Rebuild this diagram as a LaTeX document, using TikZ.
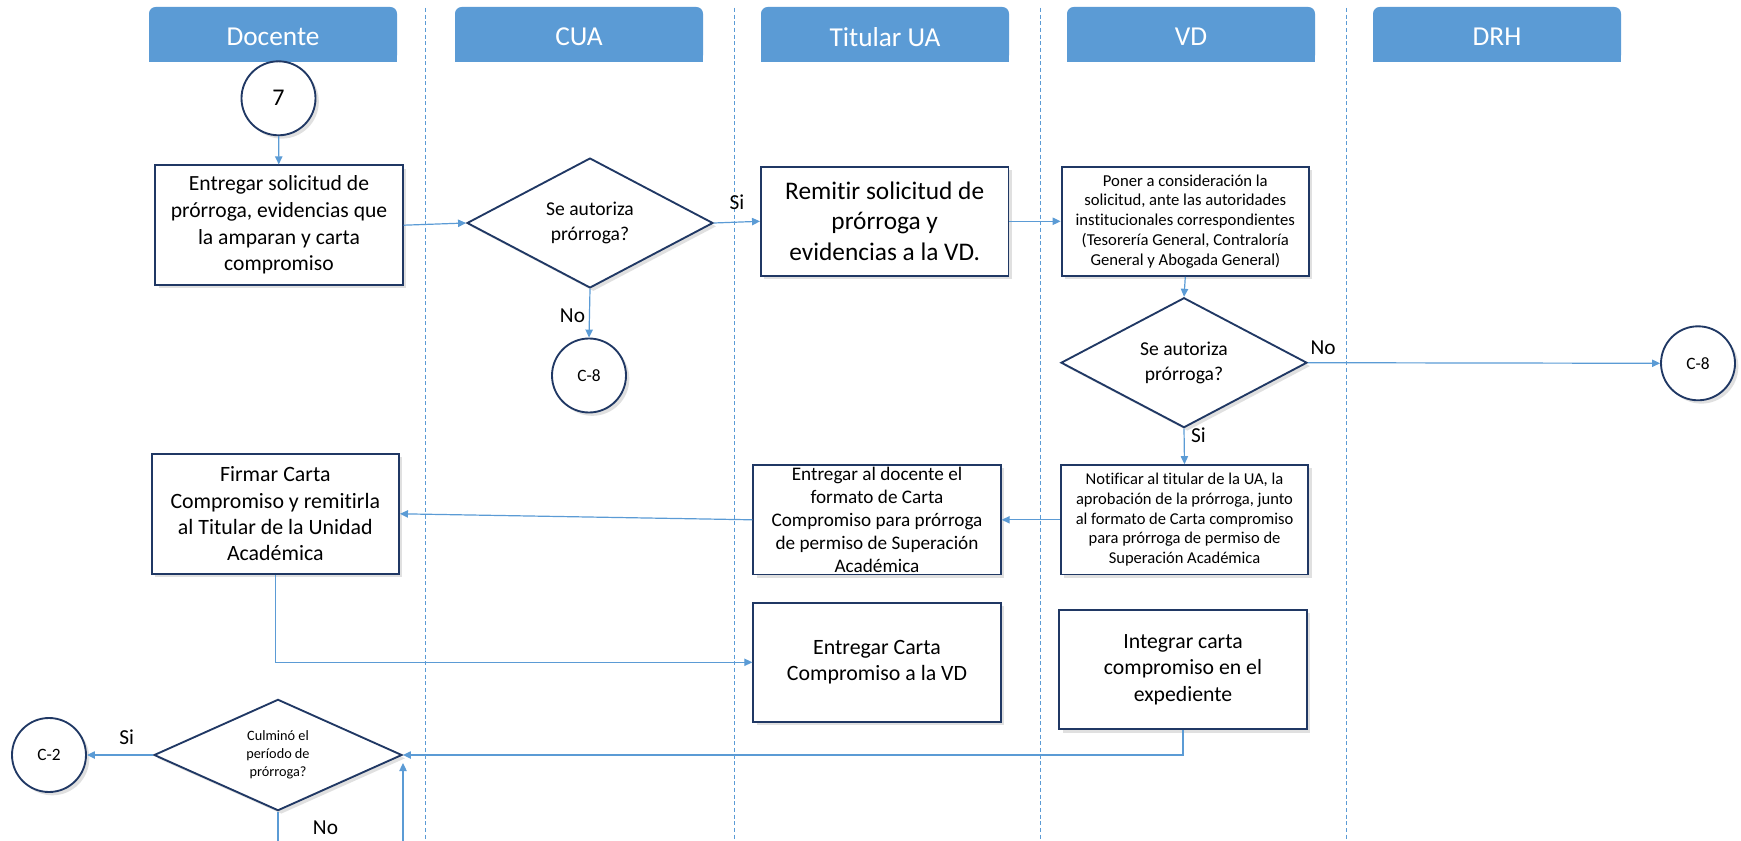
\documentclass[tikz,border=0pt]{standalone}
\usepackage{fontspec}
\setmainfont{Carlito}[Ligatures=NoCommon]
\usetikzlibrary{shapes.geometric,arrows.meta,shadows}

\definecolor{laneblue}{RGB}{91,155,213}
\definecolor{navy}{RGB}{32,56,100}

\tikzset{every picture/.style={line width=0.75pt}}
\tikzset{
  softshadow/.style={drop shadow={opacity=0.2,fill=black!60,shadow xshift=2.5pt,shadow yshift=-2.5pt}},
  lanehead/.style={fill=laneblue},
  lanetext/.style={text=white,font=\fontsize{20.5}{24}\selectfont},
  lanesep/.style={laneblue,line width=0.7pt,dash pattern={on 3pt off 2pt}},
  procbox/.style={draw=navy,line width=1.4pt,fill=white,softshadow,minimum width=185.6pt,minimum height=82pt,inner sep=0pt,align=center},
  decision/.style={diamond,draw=navy,line width=1.4pt,fill=white,softshadow,minimum width=184.5pt,minimum height=81pt,inner sep=0pt,align=center},
  refcircle/.style={circle,draw=navy,line width=1.4pt,fill=white,softshadow,minimum size=55.5pt,inner sep=0pt},
  flow/.style={laneblue,line width=0.9pt,-{Triangle[length=6pt,width=5.5pt]}},
  flowline/.style={laneblue,line width=0.9pt},
  branch/.style={font=\fontsize{16}{19}\selectfont}
}

\begin{document}
\begin{tikzpicture}[x=0.75pt,y=0.75pt,yscale=-1,xscale=1]
\useasboundingbox (0,0) rectangle (1741,841);

%Swimlane headers
\foreach \hx/\lname [count=\i] in {149/Docente,455/CUA,761/Titular UA,1067/VD,1373/DRH}{
  \fill[lanehead,rounded corners=5pt] (\hx,7) rectangle ++(248,55);
  \fill[lanehead] (\hx,30) rectangle ++(248,32);
  \node[lanetext] (lane\i) at (\hx+124,37) {\lname};
}

%Swimlane separators
\foreach \sx in {425,734.5,1040,1346.5}
  \draw[lanesep] (\sx,8) -- (\sx,841);

%Shape: Circle
\node[refcircle,font=\fontsize{18}{21}\selectfont] (start7) at (278.5,98.3) {7};
%Shape: Rectangle
\node[procbox,minimum height=89.8pt,font=\fontsize{16.2}{20}\selectfont] (entregarSol) at (279,225.2) {Entregar solicitud de\\prórroga, evidencias que\\la amparan y carta\\compromiso};
%Shape: Diamond
\node[decision,font=\fontsize{14.7}{19}\selectfont] (autCUA) at (590,223) {Se autoriza\\prórroga?};
%Shape: Circle
\node[refcircle,font=\fontsize{13}{15}\selectfont] (c8a) at (589,375.5) {C-8};
%Shape: Rectangle
\node[procbox,font=\fontsize{19}{23}\selectfont] (remitir) at (884.7,221.3) {Remitir solicitud de\\prórroga y\\evidencias a la VD.};
%Shape: Rectangle
\node[procbox,font=\fontsize{12.5}{14.8}\selectfont] (poner) at (1185.3,221.3) {Poner a consideración la\\solicitud, ante las autoridades\\institucionales correspondientes\\(Tesorería General, Contraloría\\General y Abogada General)};
%Shape: Diamond
\node[decision,font=\fontsize{14.7}{19}\selectfont] (autVD) at (1184,362.7) {Se autoriza\\prórroga?};
%Shape: Circle
\node[refcircle,font=\fontsize{13}{15}\selectfont] (c8b) at (1698,363.3) {C-8};
%Shape: Rectangle
\node[procbox,font=\fontsize{12.4}{14.8}\selectfont] (notificar) at (1184.5,519.8) {Notificar al titular de la UA, la\\aprobación de la prórroga, junto\\al formato de Carta compromiso\\para prórroga de permiso de\\Superación Académica};
%Shape: Rectangle
\node[procbox,font=\fontsize{14.4}{17.3}\selectfont] (entregarFmt) at (877,519.8) {Entregar al docente el\\formato de Carta\\Compromiso para prórroga\\de permiso de Superación\\Académica};
%Shape: Rectangle
\node[procbox,minimum height=90.2pt,font=\fontsize{16.4}{19.7}\selectfont] (firmar) at (275.3,513.8) {Firmar Carta\\Compromiso y remitirla\\al Titular de la Unidad\\Académica};
%Shape: Rectangle
\node[procbox,minimum height=89.5pt,font=\fontsize{16.4}{20}\selectfont] (entregarVD) at (877,662.3) {Entregar Carta\\Compromiso a la VD};
%Shape: Rectangle
\node[procbox,minimum height=89.5pt,font=\fontsize{16.3}{20}\selectfont] (integrar) at (1183,669.7) {Integrar carta\\compromiso en el\\expediente};
%Shape: Diamond
\node[decision,minimum width=186pt,font=\fontsize{10.7}{13.4}\selectfont] (culmino) at (278,755) {Culminó el\\período de\\prórroga?};
%Shape: Circle
\node[refcircle,font=\fontsize{13}{15}\selectfont] (c2) at (49,755) {C-2};

%free ends at the lower edge
\coordinate (noOut) at (278,841);
\coordinate (backIn) at (403,841);
\coordinate (backTip) at (403,763);

%Straight Lines
\draw[flow] (start7) -- (entregarSol);
\draw[flow] (entregarSol.east) -- (autCUA.west);
\draw[flow] (autCUA.east) -- (remitir.west);
\draw[flow] (autCUA.south) -- (c8a.north);
\draw[flow] (remitir.east) -- (poner.west);
\draw[flow] (poner.south) -- (autVD.north);
\draw[flow] (autVD.east) -- (c8b.west);
\draw[flow] (autVD.south) -- (notificar.north);
\draw[flow] (notificar.west) -- (entregarFmt.east);
\draw[flow] (entregarFmt.west) -- (firmar.east);
\draw[flow] (firmar.south) |- (entregarVD.west);
\draw[flow] (integrar.south) |- (culmino.east);
\draw[flow] (culmino.west) -- (c2.east);
\draw[flowline] (culmino.south) -- (noOut);
\draw[flow] (backIn) -- (backTip);

% Text Node
\node[branch] (siCUA) at (737,202.7) {Si};
% Text Node
\node[branch] (noCUA) at (572.5,315.7) {No};
% Text Node
\node[branch] (noVD) at (1323,347.7) {No};
% Text Node
\node[branch] (siVD) at (1198.5,435) {Si};
% Text Node
\node[branch] (siFin) at (126.7,737.7) {Si};
% Text Node
\node[branch] (noFin) at (325.5,828) {No};

\end{tikzpicture}
\end{document}
